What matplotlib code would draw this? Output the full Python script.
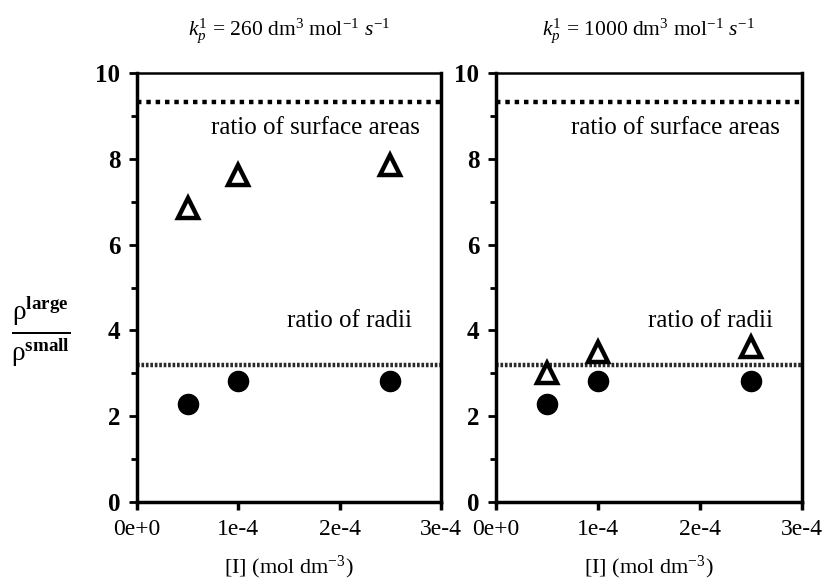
import numpy as np
import matplotlib
matplotlib.use("Agg")
import matplotlib.pyplot as plt
from matplotlib.ticker import MultipleLocator, FixedLocator

plt.rcParams['font.family'] = ['Liberation Serif', 'DejaVu Serif']
plt.rcParams['mathtext.fontset'] = 'custom'
plt.rcParams['mathtext.rm'] = 'Liberation Serif'
plt.rcParams['mathtext.it'] = 'Liberation Serif:italic'
plt.rcParams['mathtext.bf'] = 'Liberation Serif:bold'

### Données
conc = [5e-5, 1e-4, 2.5e-4]          # [I] (mol dm-3)
kp_values = [260, 1000]
tri_260 = [6.85, 7.62, 7.86]
circ_260 = [2.28, 2.82, 2.82]
tri_1000 = [3.0, 3.5, 3.61]
circ_1000 = [2.28, 2.82, 2.82]
ratio_surface = 9.32
ratio_radii = 3.19
xticks = [0, 1e-4, 2e-4, 3e-4]
xticklabels = ["0e+0", "1e-4", "2e-4", "3e-4"]

fig = plt.figure(figsize=(8.27, 5.86), dpi=100)
ax1 = fig.add_axes([0.1657, 0.1433, 0.3676, 0.732])
ax2 = fig.add_axes([0.5998, 0.1433, 0.3700, 0.732])

for ax, kp, tri, circ in zip([ax1, ax2], kp_values, [tri_260, tri_1000], [circ_260, circ_1000]):
    ax.plot([0, 3e-4], [ratio_surface, ratio_surface], color='black', lw=3.2,
            linestyle=(0, (1, 1.1)), zorder=2)
    ax.plot([0, 3e-4], [ratio_radii, ratio_radii], color='#2a2a2a', lw=3.2,
            linestyle=(0, (0.6, 0.4)), zorder=2)
    ax.plot(conc, tri, linestyle='none', marker='^', ms=15, mfc='white',
            mec='black', mew=3.2, zorder=3)
    ax.plot(conc, circ, linestyle='none', marker='o', ms=14.5, mfc='black',
            mec='black', zorder=3)
    ax.text(1.76e-4, 8.72, "ratio of surface areas", ha='center', va='center', fontsize=18)
    ax.text(2.1e-4, 4.22, "ratio of radii", ha='center', va='center', fontsize=18)

    ax.set_xlim(0, 3e-4)
    ax.set_ylim(0, 10)
    ax.xaxis.set_major_locator(FixedLocator(xticks))
    ax.set_xticklabels(xticklabels, fontsize=17)
    ax.yaxis.set_major_locator(MultipleLocator(2))
    ax.yaxis.set_minor_locator(MultipleLocator(1))
    ax.tick_params(axis='y', which='major', direction='out', length=6, width=2,
                   labelsize=18, pad=6)
    ax.tick_params(axis='y', which='minor', direction='out', length=4, width=2)
    ax.tick_params(axis='x', which='major', direction='out', length=6, width=2.5, pad=6)
    for lab in ax.get_yticklabels():
        lab.set_fontweight('bold')
    for side in ['left', 'bottom', 'right']:
        ax.spines[side].set_linewidth(2.5)
    ax.spines['top'].set_linewidth(1.8)

    ax.set_xlabel(r"[I] (mol dm$^{-3}$)", fontsize=16, labelpad=10)
    pos = ax.get_position()
    fig.text(pos.x0 + pos.width / 2, 0.948,
             r"$k_p^1$ = %d dm$^3$ mol$^{-1}$ $s^{-1}$" % kp,
             ha='center', va='center', fontsize=15.5)

fig.text(0.05, 0.433,
         r"$\frac{\mathrm{\rho}^{\mathbf{large}}}{\mathrm{\rho}^{\mathbf{small}}}$",
         ha='center', va='center', fontsize=28)

fig.savefig("out.png", dpi=100)
